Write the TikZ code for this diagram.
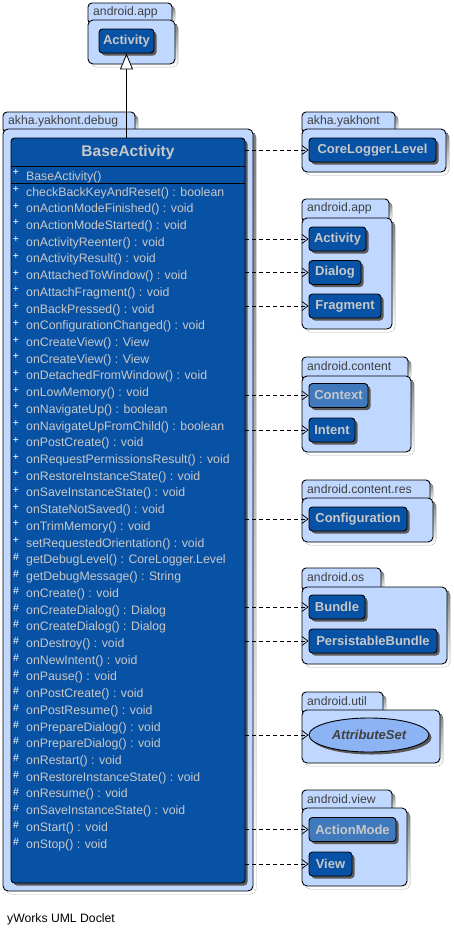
\documentclass[tikz,border=0pt]{standalone}
\usepackage{fontspec}
\setmainfont{Liberation Sans}
\usetikzlibrary{arrows.meta,shapes.geometric,shadows}
\definecolor{pkgfill}{RGB}{192,216,255}
\definecolor{clsfill}{RGB}{8,82,165}
\definecolor{clslight}{RGB}{64,122,188}
\definecolor{clstext}{RGB}{200,200,200}
\definecolor{pkgtext}{RGB}{64,64,64}
\definecolor{shade}{RGB}{90,90,90}
\definecolor{ellfill}{RGB}{140,180,245}
\tikzset{
  x=1pt,y=-1pt,
  pkgline/.style={draw=black,line width=0.9pt,fill=pkgfill},
  pkglabel/.style={text=pkgtext,font=\fontsize{12.2}{13}\selectfont,inner sep=0pt,anchor=west},
  nshadow/.style={drop shadow={shadow xshift=2.5pt,shadow yshift=-2.5pt,fill=shade,opacity=1}},
  cls/.style={draw=black,line width=0.9pt,fill=clsfill,rounded corners=3.5pt,text=clstext,
    font=\bfseries\fontsize{13}{14}\selectfont,inner sep=0pt,minimum height=24pt,nshadow},
  clsl/.style={cls,fill=clslight},
  ell/.style={ellipse,draw=black,line width=0.9pt,fill=ellfill,text=pkgtext,
    font=\bfseries\itshape\fontsize{13}{14}\selectfont,inner sep=0pt,nshadow},
  member/.style={text=clstext,font=\fontsize{12.3}{13}\selectfont,inner sep=0pt,anchor=base west},
  vis/.style={text=white,font=\fontsize{10.5}{10}\selectfont,inner sep=0pt},
  dep/.style={draw=black,line width=0.7pt,dash pattern=on 4pt off 3pt,-{Straight Barb[length=6pt,width=9pt]}},
  gen/.style={draw=black,line width=0.8pt,-{Triangle[fill=white,length=16pt,width=13pt]}},
}
% #1 left, #2 tab top, #3 tab right, #4 body top, #5 body right, #6 bottom, #7 node name, #8 label
\newcommand\pkgbox[8]{%
  \fill[shade,rounded corners=4pt] (#1+3,#4+3) |- (#3+3,#2+3) -- (#3+3,#4+3) -- cycle;
  \draw[pkgline,rounded corners=4pt] (#1,#4+4) |- (#3,#2) -- (#3,#4+4) -- cycle;
  \fill[shade,rounded corners=5pt] (#1+3,#4+3) rectangle (#5+3,#6+3);
  \draw[pkgline,rounded corners=5pt] (#1,#4) rectangle (#5,#6);
  \node[pkglabel] (#7) at (#1+5,#2+9.5) {#8};
}
\begin{document}
\begin{tikzpicture}
\useasboundingbox (0,0) rectangle (453,935);
\fill[white] (0,0) rectangle (453,935);

% packages
\pkgbox{88}{3}{172}{20}{175}{64}{pkgtop}{android.app}
\pkgbox{3}{112}{135}{129}{253}{891}{pkgdebug}{akha.yakhont.debug}
\pkgbox{302}{112}{395}{129}{446}{172}{pkgyak}{akha.yakhont}
\pkgbox{302}{199}{389}{218}{392}{329}{pkgapp}{android.app}
\pkgbox{302}{357}{408}{376}{411}{452}{pkgcontent}{android.content}
\pkgbox{302}{480}{430}{498}{433}{542}{pkgres}{android.content.res}
\pkgbox{302}{568}{381}{587}{447}{664}{pkgos}{android.os}
\pkgbox{302}{692}{383}{710}{440}{763}{pkgutil}{android.util}
\pkgbox{302}{790}{392}{808}{407}{886}{pkgview}{android.view}

% class nodes
\node[cls,minimum width=55pt] (acttop) at (126.5,41) {Activity};
\node[cls,minimum width=234pt,minimum height=745pt] (base) at (128,510.5) {};
\node[text=clstext,font=\bfseries\fontsize{15.5}{16}\selectfont,inner sep=0pt] (basetitle) at (128,152) {BaseActivity};
\draw[black,line width=0.9pt] (11,166) -- (245,166);
\draw[black,line width=0.9pt] (11,183) -- (245,183);
\node[vis] (v0) at (16,172.5) {+};
\node[member] (m0) at (26,180) {BaseActivity()};
\foreach \p/\t [count=\i from 0] in {
  +/checkBackKeyAndReset() : boolean,
  +/onActionModeFinished() : void,
  +/onActionModeStarted() : void,
  +/onActivityReenter() : void,
  +/onActivityResult() : void,
  +/onAttachedToWindow() : void,
  +/onAttachFragment() : void,
  +/onBackPressed() : void,
  +/onConfigurationChanged() : void,
  +/onCreateView() : View,
  +/onCreateView() : View,
  +/onDetachedFromWindow() : void,
  +/onLowMemory() : void,
  +/onNavigateUp() : boolean,
  +/onNavigateUpFromChild() : boolean,
  +/onPostCreate() : void,
  +/onRequestPermissionsResult() : void,
  +/onRestoreInstanceState() : void,
  +/onSaveInstanceState() : void,
  +/onStateNotSaved() : void,
  +/onTrimMemory() : void,
  +/setRequestedOrientation() : void,
  \#/getDebugLevel() : CoreLogger.Level,
  \#/getDebugMessage() : String,
  \#/onCreate() : void,
  \#/onCreateDialog() : Dialog,
  \#/onCreateDialog() : Dialog,
  \#/onDestroy() : void,
  \#/onNewIntent() : void,
  \#/onPause() : void,
  \#/onPostCreate() : void,
  \#/onPostResume() : void,
  \#/onPrepareDialog() : void,
  \#/onPrepareDialog() : void,
  \#/onRestart() : void,
  \#/onRestoreInstanceState() : void,
  \#/onResume() : void,
  \#/onSaveInstanceState() : void,
  \#/onStart() : void,
  \#/onStop() : void}{
  \pgfmathsetmacro\yy{192+\i*16.72}
  \node[vis] (vis\i) at (16,\yy-2.5) {\p};
  \node[member] (mem\i) at (26,\yy+4) {\t};
}

\node[cls,minimum width=127pt] (corelogger) at (372.5,150) {CoreLogger.Level};
\node[cls,minimum width=57pt] (activity) at (337.5,239) {Activity};
\node[cls,minimum width=52pt] (dialog) at (335,272.5) {Dialog};
\node[cls,minimum width=72pt] (fragment) at (345,306) {Fragment};
\node[clsl,minimum width=59pt] (context) at (338.5,395.5) {Context};
\node[cls,minimum width=46pt] (intent) at (332,430) {Intent};
\node[cls,minimum width=98pt] (configuration) at (358,519) {Configuration};
\node[cls,minimum width=56pt] (bundle) at (337,607) {Bundle};
\node[cls,minimum width=128pt] (pbundle) at (373,641) {PersistableBundle};
\node[ell,minimum width=120pt,minimum height=34pt] (attrset) at (369,735) {AttributeSet};
\node[clsl,minimum width=87pt] (actionmode) at (352.5,829.5) {ActionMode};
\node[cls,minimum width=43pt] (view) at (330.5,864) {View};

% generalization
\draw[gen] (base.north -| acttop) -- (acttop.south);

% dependencies
\foreach \n in {corelogger,activity,dialog,fragment,context,intent,configuration,bundle,pbundle,attrset,actionmode,view}{
  \draw[dep] (base.east |- \n) -- (\n.west);
}

\node[anchor=base west,inner sep=0pt,font=\fontsize{12.2}{13}\selectfont] (footer) at (7,922) {yWorks UML Doclet};
\end{tikzpicture}
\end{document}
